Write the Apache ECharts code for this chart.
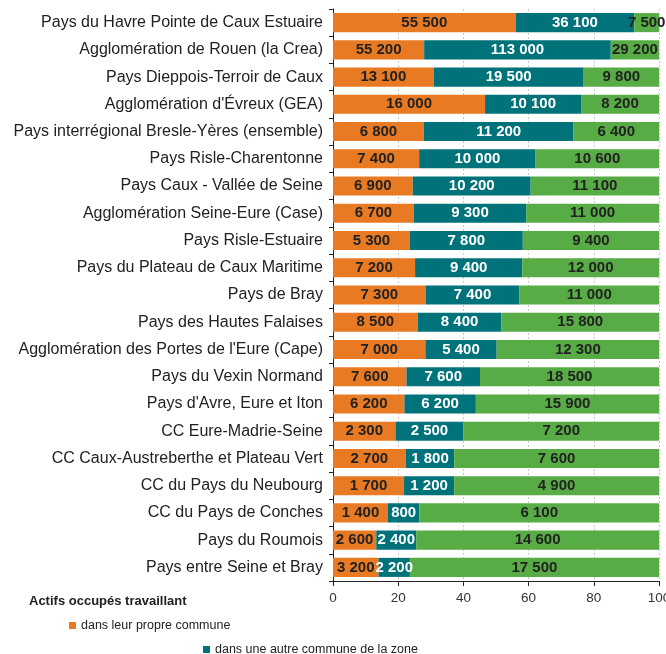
<!DOCTYPE html>
<html>
<head>
<meta charset="utf-8">
<script src="https://cdn.jsdelivr.net/npm/echarts@6/dist/echarts.min.js"></script>
<style>html,body{margin:0;padding:0;background:#fff;}#c{width:666px;height:654px;}</style>
</head>
<body>
<div id="c"></div>
<script>
const categories = [
  "Pays du Havre Pointe de Caux Estuaire",
  "Agglomération de Rouen (la Crea)",
  "Pays Dieppois-Terroir de Caux",
  "Agglomération d'Évreux (GEA)",
  "Pays interrégional Bresle-Yères (ensemble)",
  "Pays Risle-Charentonne",
  "Pays Caux - Vallée de Seine",
  "Agglomération Seine-Eure (Case)",
  "Pays Risle-Estuaire",
  "Pays du Plateau de Caux Maritime",
  "Pays de Bray",
  "Pays des Hautes Falaises",
  "Agglomération des Portes de l'Eure (Cape)",
  "Pays du Vexin Normand",
  "Pays d'Avre, Eure et Iton",
  "CC Eure-Madrie-Seine",
  "CC Caux-Austreberthe et Plateau Vert",
  "CC du Pays du Neubourg",
  "CC du Pays de Conches",
  "Pays du Roumois",
  "Pays entre Seine et Bray"
];
const propreCommune = [55500,55200,13100,16000,6800,7400,6900,6700,5300,7200,7300,8500,7000,7600,6200,2300,2700,1700,1400,2600,3200];
const autreCommune = [36100,113000,19500,10100,11200,10000,10200,9300,7800,9400,7400,8400,5400,7600,6200,2500,1800,1200,800,2400,2200];
const horsZone = [7500,29200,9800,8200,6400,10600,11100,11000,9400,12000,11000,15800,12300,18500,15900,7200,7600,4900,6100,14600,17500];
const seriesNames = ["dans leur propre commune","dans une autre commune de la zone","hors de la zone"];
const xTicks = [0,20,40,60,80,100];
const legendTitle = "Actifs occupés travaillant";

const totals = categories.map((_, i) => propreCommune[i] + autreCommune[i] + horsZone[i]);
const toPct = arr => arr.map((v, i) => ({ value: v / totals[i] * 100, raw: v }));
const fmt = v => String(v).replace(/\B(?=(\d{3})+(?!\d))/g, " ");

const colors = ["#E87A24", "#00737A", "#58AC45"];
const labelColors = ["#222", "#fff", "#222"];
const raws = [propreCommune, autreCommune, horsZone];
const FF = 'Liberation Sans, Arial, sans-serif';

const chart = echarts.init(document.getElementById('c'), null, { renderer: 'canvas' });
chart.setOption({
  animation: false,
  backgroundColor: '#fff',
  textStyle: { fontFamily: FF },
  title: {
    text: legendTitle, left: 29, top: 595, padding: 0,
    textStyle: { fontSize: 13, fontWeight: 'bold', color: '#222', fontFamily: FF }
  },
  legend: [
    { data: [seriesNames[0]], left: 69, top: 619, itemWidth: 7, itemHeight: 7, icon: 'rect', itemGap: 0,
      textStyle: { fontSize: 12.5, color: '#222', fontFamily: FF }, padding: 0 },
    { data: [seriesNames[1]], left: 203, top: 643, itemWidth: 7, itemHeight: 7, icon: 'rect', itemGap: 0,
      textStyle: { fontSize: 12.5, color: '#222', fontFamily: FF }, padding: 0 }
  ],
  grid: { left: 333, right: 7, top: 9, bottom: 73, containLabel: false, outerBoundsMode: 'none' },
  xAxis: {
    type: 'value', min: 0, max: 100, interval: 20,
    axisLine: { show: true, lineStyle: { color: '#222', width: 1 } },
    axisTick: { show: true, length: 5, lineStyle: { color: '#222' } },
    axisLabel: { fontSize: 13.5, color: '#333', margin: 10, fontFamily: FF, formatter: v => xTicks.includes(v) ? String(v) : '' },
    splitLine: { show: true, lineStyle: { color: '#c8c8c8', type: [2, 2], width: 1 } }
  },
  yAxis: {
    type: 'category', data: categories, inverse: true,
    axisLine: { show: true, lineStyle: { color: '#222', width: 1 } },
    axisTick: { show: true, length: 4, lineStyle: { color: '#222' } },
    axisLabel: { fontSize: 16, color: '#222', margin: 10, fontFamily: FF }
  },
  series: raws.map((arr, k) => ({
    name: seriesNames[k], type: 'bar', stack: 'total',
    barCategoryGap: '30%',
    itemStyle: { color: colors[k] },
    label: {
      show: true, position: 'inside', color: labelColors[k],
      fontSize: 15, fontWeight: 'bold', fontFamily: FF,
      formatter: p => fmt(p.data.raw)
    },
    data: toPct(arr)
  }))
});
</script>
</body>
</html>
